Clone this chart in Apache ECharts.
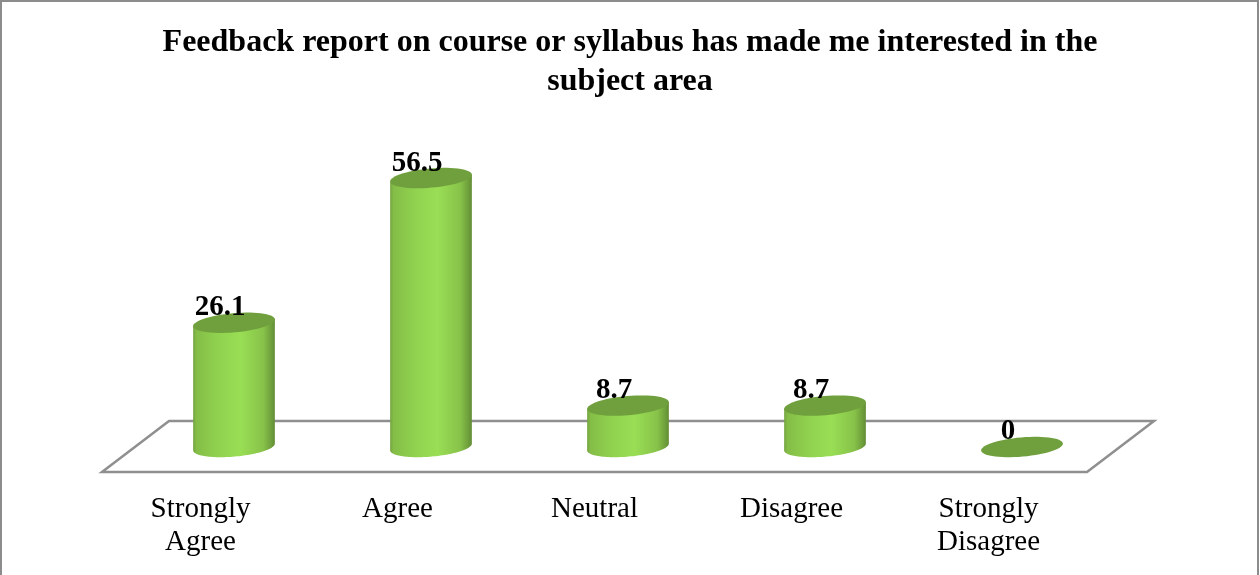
<!DOCTYPE html>
<html>
<head>
<meta charset="utf-8">
<style>html,body{margin:0;padding:0;background:#fff}#c{width:1260px;height:575px}</style>
<script src="https://cdn.jsdelivr.net/npm/echarts@6/dist/echarts.min.js"></script>
</head>
<body>
<div id="c"></div>
<script>
const titleText = 'Feedback report on course or syllabus has made me interested in the\nsubject area';
const categories = ['Strongly\nAgree', 'Agree', 'Neutral', 'Disagree', 'Strongly\nDisagree'];
const percentages = [26.1, 56.5, 8.7, 8.7, 0];

const DEPTH_X = 33.5, DEPTH_Y = -25, FLOOR_DX = 67, FLOOR_DY = -51;
const RX = 41, RY = 9.6, TILT = 5 * Math.PI / 180;
const FONT = '"Liberation Serif","Times New Roman",serif';

function ellipsePoint(cx, cy, t) {
  const ex = RX * Math.cos(t), ey = RY * Math.sin(t);
  return [cx + ex * Math.cos(TILT) + ey * Math.sin(TILT),
          cy - ex * Math.sin(TILT) + ey * Math.cos(TILT)];
}
function arcPoints(cx, cy, from, to) {
  const pts = [];
  for (let i = 0; i <= 60; i++) pts.push(ellipsePoint(cx, cy, from + (to - from) * i / 60));
  return pts;
}
const bodyFill = new echarts.graphic.LinearGradient(0, 0, 1, 0, [
  { offset: 0, color: '#74a340' },
  { offset: 0.04, color: '#84bd47' },
  { offset: 0.3, color: '#90d24f' },
  { offset: 0.58, color: '#99de55' },
  { offset: 0.86, color: '#87c249' },
  { offset: 0.97, color: '#6b9a3a' },
  { offset: 1, color: '#628c35' }
]);

function renderCylinder(params, api) {
  const base = api.coord([api.value(0), 0]);
  const top = api.coord([api.value(0), api.value(1)]);
  const cx = base[0] + DEPTH_X, by = base[1] + DEPTH_Y, ty = top[1] + DEPTH_Y;
  const children = [];
  if (api.value(1) > 0) {
    // from the right end, round the bottom to the left end, then back up
    const lower = arcPoints(cx, by, 0, Math.PI);
    const l = ellipsePoint(cx, ty, Math.PI), r = ellipsePoint(cx, ty, 0);
    children.push({ type: 'polygon', shape: { points: lower.concat([l, r]) }, style: { fill: bodyFill } });
  }
  children.push({
    type: 'polygon',
    shape: { points: arcPoints(cx, ty, 0, Math.PI * 2) },
    style: { fill: '#70a03d' }
  });
  children.push({
    type: 'text',
    style: {
      text: String(api.value(1)), x: cx - 14, y: ty - 15,
      align: 'center', verticalAlign: 'middle',
      font: 'bold 29px ' + FONT, fill: '#000'
    }
  });
  return { type: 'group', children };
}
function renderFloor(params) {
  const g = params.coordSys;
  const y = g.y + g.height, x0 = g.x, x1 = g.x + g.width;
  return {
    type: 'polygon',
    shape: { points: [[x0, y], [x0 + FLOOR_DX, y + FLOOR_DY], [x1 + FLOOR_DX, y + FLOOR_DY], [x1, y]] },
    style: { fill: '#fff', stroke: '#8f8f8f', lineWidth: 2.5 }
  };
}

const chart = echarts.init(document.getElementById('c'), null, { renderer: 'canvas' });
chart.setOption({
  animation: false,
  backgroundColor: '#fff',
  title: {
    text: titleText, left: 625, top: 18, textAlign: 'center',
    textStyle: { fontFamily: FONT, fontWeight: 'bold', fontSize: 32, lineHeight: 39, color: '#000' }
  },
  grid: { left: 102, top: 186.4, width: 985, height: 285.6 },
  xAxis: {
    type: 'category', data: categories,
    axisLine: { show: false }, axisTick: { show: false },
    axisLabel: { interval: 0, margin: 21, fontFamily: FONT, fontSize: 29, lineHeight: 33, color: '#000' }
  },
  yAxis: { type: 'value', min: 0, max: 60, show: false, splitLine: { show: false } },
  graphic: [{
    type: 'polyline', silent: true, z: 100,
    shape: { points: [[1, 575], [1, 1], [1258, 1], [1258, 575]] },
    style: { fill: null, stroke: '#8c8c8c', lineWidth: 2 }
  }],
  series: [
    { type: 'custom', coordinateSystem: 'cartesian2d', clip: false, z: 1, silent: true, data: [[0, 0]], renderItem: renderFloor },
    {
      type: 'custom', coordinateSystem: 'cartesian2d', clip: false, z: 2, silent: true,
      encode: { x: 0, y: 1 },
      data: percentages.map((v, i) => [i, v]),
      renderItem: renderCylinder
    }
  ]
});
</script>
</body>
</html>
